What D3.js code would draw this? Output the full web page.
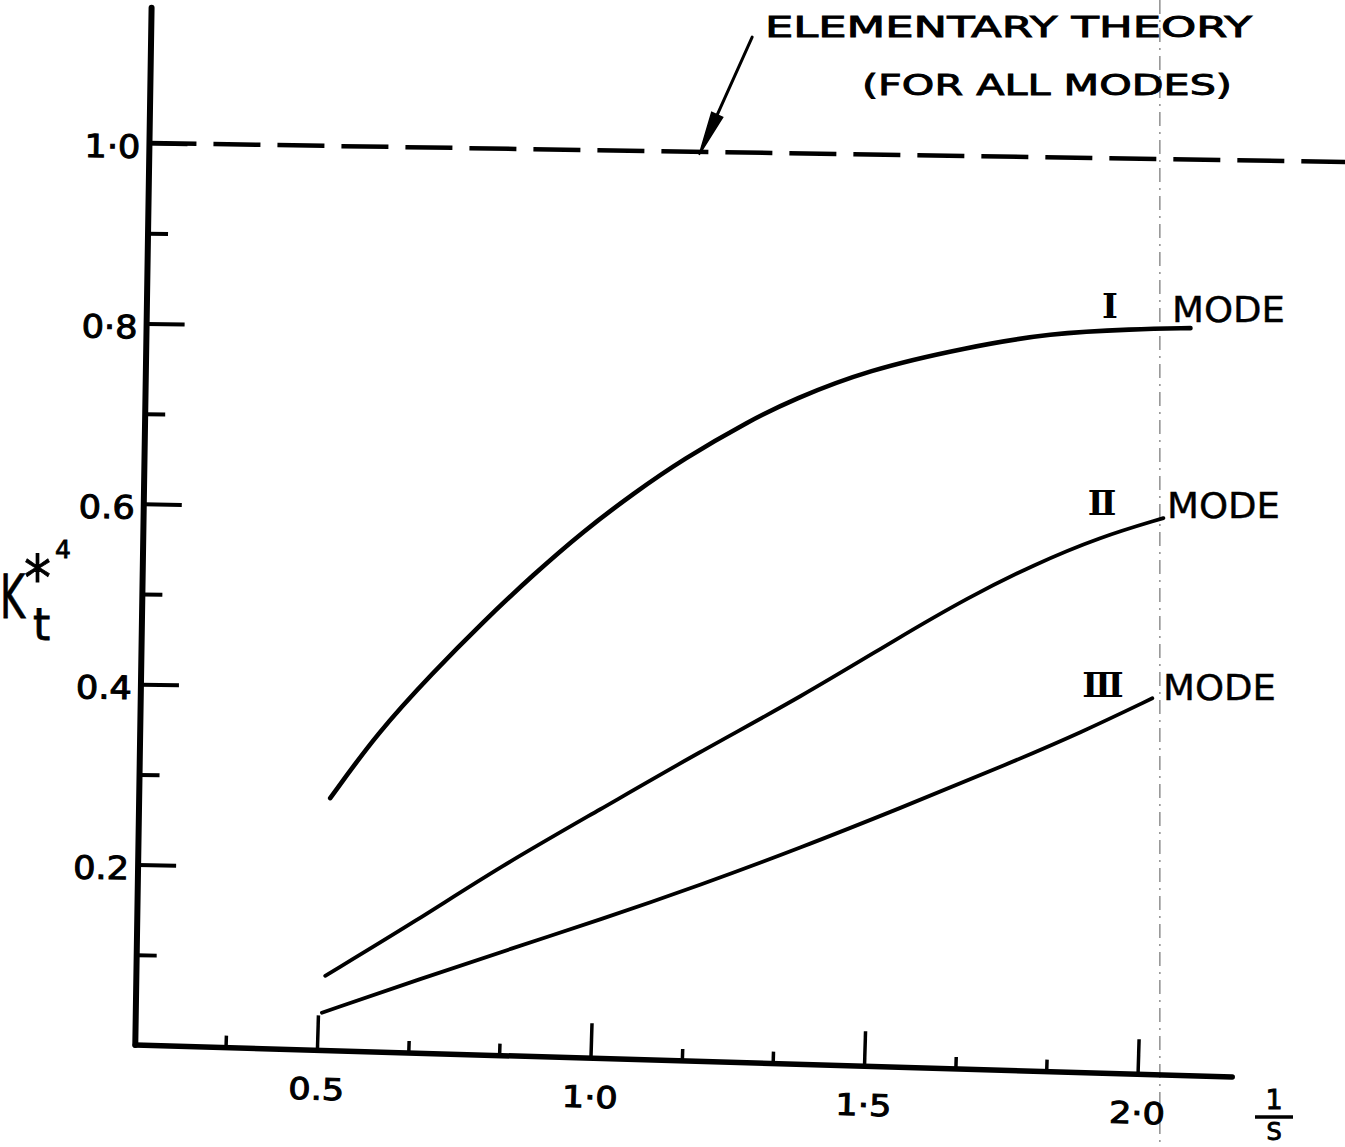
<!DOCTYPE html>
<html>
<head>
<meta charset="utf-8">
<script src="https://cdn.jsdelivr.net/npm/d3@7"></script>
<style>
body{margin:0;background:#fff;}
svg{display:block;}
text{font-family:"DejaVu Sans",sans-serif;fill:#000;}
</style>
</head>
<body>
<div id="chart"></div>
<script>
// values: x = 1/s , y = kt*^4
var mode1X=[0.517,0.601,0.701,0.791,0.881,0.971,1.062,1.152,1.273,1.351,1.486,1.668,1.819,1.971,2.075];
var mode1Y=[0.277,0.350,0.418,0.475,0.528,0.577,0.620,0.659,0.703,0.727,0.761,0.788,0.805,0.811,0.813];
var mode2X=[0.513,0.679,0.829,1.010,1.191,1.373,1.554,1.675,1.795,1.916,2.031];
var mode2Y=[0.080,0.143,0.204,0.269,0.335,0.397,0.466,0.510,0.548,0.580,0.602];
var mode3X=[0.508,0.681,0.855,1.014,1.195,1.377,1.559,1.740,1.891,2.016];
var mode3Y=[0.039,0.077,0.114,0.147,0.187,0.230,0.276,0.323,0.364,0.402];
var elementaryY=1.0;

var yMajor=[0.2,0.4,0.6,0.8,1.0];
var yLabels=["0.2","0.4","0.6","0·8","1·0"];
var yMinor=[0.1,0.3,0.5,0.7,0.9];
var xMajor=[0.5,1.0,1.5,2.0];
var xLabels=["0.5","1·0","1·5","2·0"];
var xMinor=[0.333,0.667,0.833,1.167,1.333,1.667,1.833];
var modeNames=["Ⅰ","Ⅱ","Ⅲ"];

var W=1345,H=1147;
var xMin=0.168,xMax=2.173,yMax=1.15,dashEnd=2.45;

var x=d3.scaleLinear().domain([0.5,2.0]).range([317,1138]);
var y=d3.scaleLinear().domain([0,1]).range([1045,143]);
var ox=x(xMin),oy=y(0);

var svg=d3.select("#chart").append("svg").attr("width",W).attr("height",H);
svg.append("rect").attr("width",W).attr("height",H).attr("fill","#fff");

// faint fold line of the scan
svg.append("line").attr("x1",x(2.04)).attr("y1",0).attr("x2",x(2.04)).attr("y2",H)
  .attr("stroke","#666").attr("stroke-width",1.1).attr("stroke-dasharray","14,6,2,6");

// the drawing sits slightly rotated on the sheet
var plot=svg.append("g").attr("transform","rotate(0.9,"+ox+","+oy+")");

//y axis
plot.append("line").attr("x1",ox).attr("y1",oy).attr("x2",ox).attr("y2",y(yMax))
  .attr("stroke","#000").attr("stroke-width",6).attr("stroke-linecap","round");
var ym=plot.append("g").attr("transform","translate("+ox+",0)")
  .call(d3.axisLeft(y).tickValues(yMinor).tickSize(-20).tickFormat(""));
var yM=plot.append("g").attr("transform","translate("+ox+",0)")
  .call(d3.axisLeft(y).tickValues(yMajor).tickSize(-38).tickPadding(9).tickFormat(function(d,i){return yLabels[i];}));
[ym,yM].forEach(function(g){
  g.select(".domain").remove();
  g.selectAll("line").attr("stroke","#000").attr("stroke-width",4);
  g.attr("font-family",null).attr("font-size",null);
});
yM.selectAll("text").attr("dy","0.45em").style("font-size","32px").attr("stroke","#000").attr("stroke-width",1)
  .attr("textLength",56).attr("lengthAdjust","spacingAndGlyphs");

//x axis, drawn a little more tilted than the rest
var xg=plot.append("g").attr("transform","rotate(0.77,"+ox+","+oy+")");
xg.append("line").attr("x1",ox).attr("y1",oy).attr("x2",x(xMax)).attr("y2",oy)
  .attr("stroke","#000").attr("stroke-width",5.5).attr("stroke-linecap","round");
var xm=xg.append("g").attr("transform","translate(0,"+oy+")")
  .call(d3.axisBottom(x).tickValues(xMinor).tickSize(-12).tickFormat(""));
var xM=xg.append("g").attr("transform","translate(0,"+oy+")")
  .call(d3.axisBottom(x).tickValues(xMajor).tickSize(-35).tickPadding(28).tickFormat(function(d,i){return xLabels[i];}));
[xm,xM].forEach(function(g){
  g.select(".domain").remove();
  g.selectAll("line").attr("stroke","#000").attr("stroke-width",3.5);
  g.attr("font-family",null).attr("font-size",null);
});
xM.selectAll("text").style("font-size","30px").attr("stroke","#000").attr("stroke-width",1)
  .attr("textLength",56).attr("lengthAdjust","spacingAndGlyphs");

//elementary theory
plot.append("line").attr("x1",ox).attr("y1",y(elementaryY)).attr("x2",x(dashEnd)).attr("y2",y(elementaryY))
  .attr("stroke","#000").attr("stroke-width",4.5).attr("stroke-dasharray","47,17");

//curves
var line=d3.line().x(function(d){return x(d[0]);}).y(function(d){return y(d[1]);}).curve(d3.curveBasis);
var modes=[d3.zip(mode1X,mode1Y),d3.zip(mode2X,mode2Y),d3.zip(mode3X,mode3Y)];
var widths=[4.6,3.8,3.8];
modes.forEach(function(m,i){
  plot.append("path").attr("d",line(m)).attr("fill","none").attr("stroke","#000")
    .attr("stroke-width",widths[i]).attr("stroke-linecap","round").attr("stroke-linejoin","round");
});

//arrow to the dashed line
var sx=x(1.266),sy=y(1.128),tx=x(1.1725),ty=y(0.9965);
var len=Math.sqrt((tx-sx)*(tx-sx)+(ty-sy)*(ty-sy));
var ux=(tx-sx)/len,uy=(ty-sy)/len,hl=44,hw=6;
plot.append("line").attr("x1",sx).attr("y1",sy).attr("x2",tx-ux*hl).attr("y2",ty-uy*hl)
  .attr("stroke","#000").attr("stroke-width",3).attr("stroke-linecap","round");
plot.append("path").attr("fill","#000").attr("stroke","#000").attr("stroke-width",1.5)
  .attr("d","M"+tx+","+ty+"L"+(tx-ux*hl-uy*hw)+","+(ty-uy*hl+ux*hw)+"L"+(tx-ux*hl+uy*hw)+","+(ty-uy*hl-ux*hw)+"Z");

//lettering
function letter(t,px,py,size,len){
  var e=svg.append("text").attr("x",px).attr("y",py).style("font-size",size+"px")
    .attr("stroke","#000").attr("stroke-width",0.9).text(t);
  if(len) e.attr("textLength",len).attr("lengthAdjust","spacingAndGlyphs");
  return e;
}
letter("ELEMENTARY THEORY",765,37,29,487);
letter("(FOR ALL MODES)",862,95,29,370);

var numX=[1110,1102,1103],numY=[318,515,697];
var modeX=[1172,1167,1163],modeY=[322,518,700];
modeNames.forEach(function(n,i){
  svg.append("text").attr("x",numX[i]).attr("y",numY[i]).attr("text-anchor","middle")
    .style("font-family","'DejaVu Serif',serif").style("font-weight","bold").style("font-size","34px").text(n);
  svg.append("text").attr("x",modeX[i]).attr("y",modeY[i]).style("font-size","35px")
    .attr("stroke","#000").attr("stroke-width",0.4).attr("textLength",113).attr("lengthAdjust","spacingAndGlyphs").text("MODE");
});

//y title: K with subscript t and superscript *4, one text element
var yt=svg.append("text").attr("stroke","#000").attr("stroke-width",0.8);
yt.append("tspan").attr("x",0).attr("y",618).style("font-size","60px").attr("textLength",25).attr("lengthAdjust","spacingAndGlyphs").text("K");
yt.append("tspan").attr("x",33).attr("y",640).style("font-size","44px").text("t");
yt.append("tspan").attr("x",24).attr("y",600).style("font-size","62px").attr("textLength",27).attr("lengthAdjust","spacingAndGlyphs").text("*");
yt.append("tspan").attr("x",55).attr("y",558).style("font-size","25px").text("4");

//x title 1/S
letter("1",1274,1109,27).attr("text-anchor","middle");
svg.append("line").attr("x1",1255).attr("y1",1117).attr("x2",1293).attr("y2",1117).attr("stroke","#000").attr("stroke-width",3.5);
letter("S",1274,1140,24).attr("text-anchor","middle");
</script>
</body>
</html>
